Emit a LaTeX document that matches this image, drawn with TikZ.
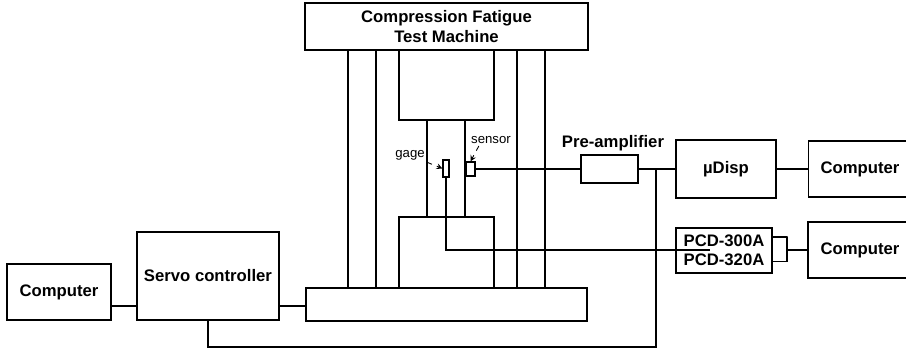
\documentclass[tikz,border=0pt]{standalone}
\usepackage{fontspec}
\setmainfont{Liberation Sans}
\usetikzlibrary{positioning}
\begin{document}
\begin{tikzpicture}[x=0.02cm,y=-0.02cm,line width=0.7pt,>=stealth,
  box/.style={draw,inner sep=0pt,font=\fontsize{9.5}{11}\selectfont\bfseries,align=center},
  tag/.style={font=\fontsize{7.5}{9}\selectfont,inner sep=1pt}]
\useasboundingbox (0,0) rectangle (906,350);
% Pruefmaschine
\node[box,minimum width=5.66cm,minimum height=0.94cm] (machine) at (446.5,26.5) {Compression Fatigue\\Test Machine};
\node[box,minimum width=5.62cm,minimum height=0.66cm] (base) at (446.5,304.5) {};
\draw (348,50) rectangle (376,288); \draw (517,50) rectangle (545,288);
\draw (399,50) rectangle (494,120); \draw (399,217) rectangle (494,288);
\draw (427,120) rectangle (465,217);
% Aufnehmer
\node[draw,inner sep=0pt,minimum width=0.12cm,minimum height=0.34cm] (gage) at (446,168.5) {};
\node[draw,inner sep=0pt,minimum width=0.18cm,minimum height=0.28cm] (sensor) at (470.5,169) {};
\node[tag] (gagetag) at (410,155) {gage};
\node[tag] (sensortag) at (491,140) {sensor};
\draw[->,dashed,line width=0.5pt] (gagetag.south east) -- (gage.west);
\draw[->,dashed,line width=0.5pt] ([xshift=0.2cm]sensortag.south west) -- (sensor.north);
% Steuerung links
\node[box,minimum width=2.08cm,minimum height=1.12cm] (pcleft) at (59,292) {Computer};
\node[box,minimum width=2.84cm,minimum height=1.76cm] (servo) at (208,276) {Servo controller};
\coordinate (ctrl) at (0,306);
\draw (pcleft.east |- ctrl) -- (servo.west |- ctrl);
\draw (servo.east |- ctrl) -- (base.west |- ctrl);
% Messkette rechts
\node[box,minimum width=1.14cm,minimum height=0.56cm] (preamp) at (609.5,169) {};
\node[font=\fontsize{9.5}{11}\selectfont\bfseries,inner sep=0pt] (preamptag) at (613,143) {Pre-amplifier};
\node[box,minimum width=2.0cm,minimum height=1.16cm] (disp) at (726,169) {µDisp};
\node[box,minimum width=2.06cm,minimum height=1.12cm] (pcdisp) at (860,169) {Computer};
\node[box,minimum width=1.92cm,minimum height=0.9cm] (pcd) at (724,250.5) {PCD-300A\\PCD-320A};
\node[box,minimum width=2.08cm,minimum height=1.12cm] (pcpcd) at (860,250) {Computer};
\coordinate (tap) at (656,169);
\coordinate (ret) at (656,347);
\coordinate (under) at (710,250);
\coordinate (clip) at (787,250);
\draw (sensor.east) -- (preamp.west);
\draw (preamp.east) -- (disp.west);
\draw (disp.east) -- (pcdisp.west);
\draw (gage.south) -- (gage.south |- under) -- (under);
\draw (servo.south) -- (servo.south |- ret) -- (ret) -- (tap);
\draw ([yshift=0.27cm]pcd.east) -| ([yshift=0.27cm]clip) -- ([yshift=-0.23cm]clip) -| ([yshift=-0.23cm]pcd.east);
\draw (clip) -- (pcpcd.west);
\end{tikzpicture}
\end{document}
